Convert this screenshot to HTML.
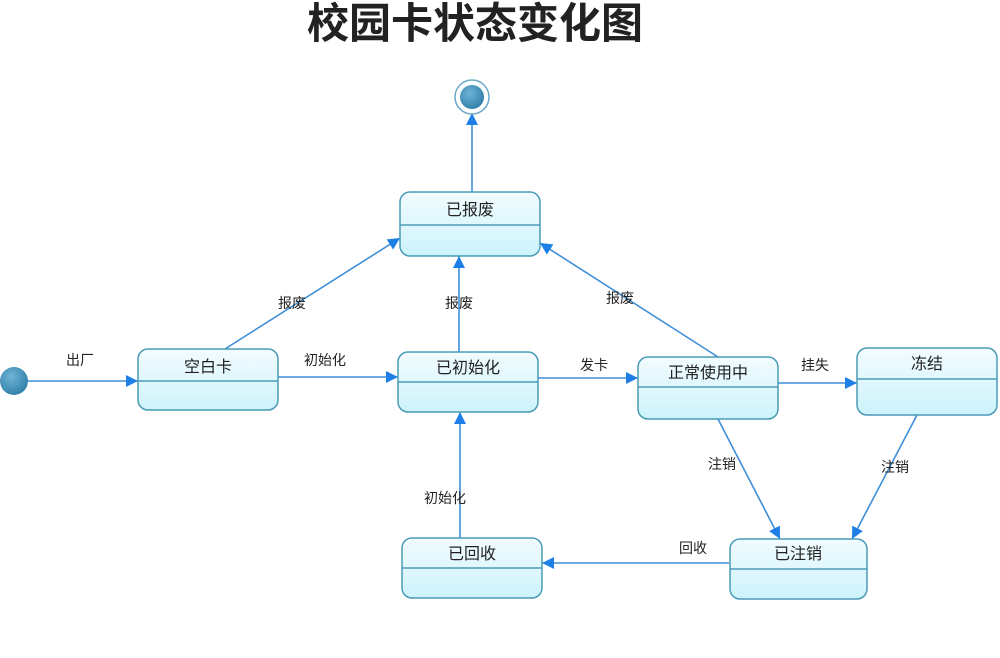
<!DOCTYPE html>
<html><head><meta charset="utf-8"><style>
html,body{margin:0;padding:0;background:#fff;}
svg{display:block;}
text{font-family:"Liberation Sans","Noto Sans CJK SC",sans-serif;fill:#222;}
</style></head><body>
<svg width="1000" height="658" viewBox="0 0 1000 658" xmlns="http://www.w3.org/2000/svg">
<defs>
<linearGradient id="g" x1="0" y1="0" x2="0" y2="1">
<stop offset="0" stop-color="#f2fcff"/><stop offset="1" stop-color="#cdf3fb"/>
</linearGradient>
<radialGradient id="c" cx="0.4" cy="0.35" r="0.7">
<stop offset="0" stop-color="#6fb4d6"/><stop offset="1" stop-color="#2e7ea8"/>
</radialGradient>
<marker id="a" viewBox="0 0 10 10" refX="10" refY="5" markerWidth="18" markerHeight="12" markerUnits="userSpaceOnUse" orient="auto">
<path d="M0,0 L10,5 L0,10 z" fill="#1e7fe6"/>
</marker>
</defs>
<text x="475" y="38" font-size="42" font-weight="bold" text-anchor="middle" font-family="Liberation Serif,Noto Serif CJK SC,serif">校园卡状态变化图</text>

<g stroke="#3f8fd8" stroke-width="1.6" fill="none" marker-end="url(#a)">
<line x1="28" y1="381" x2="138" y2="381"/>
<line x1="225" y1="349" x2="400" y2="238"/>
<line x1="278" y1="377" x2="398" y2="377"/>
<line x1="459" y1="352" x2="459" y2="256"/>
<line x1="538" y1="378" x2="638" y2="378"/>
<line x1="718" y1="357" x2="540" y2="243"/>
<line x1="778" y1="383" x2="857" y2="383"/>
<line x1="718" y1="419" x2="780" y2="539"/>
<line x1="917" y1="415" x2="852" y2="539"/>
<line x1="729" y1="563" x2="542" y2="563"/>
<line x1="460" y1="538" x2="460" y2="412"/>
<line x1="472" y1="192" x2="472" y2="113"/>
</g>

<circle cx="14" cy="381" r="14" fill="url(#c)"/>
<circle cx="472" cy="97" r="17" fill="#fff" stroke="#6aa8c8" stroke-width="1.5"/>
<circle cx="472" cy="97" r="12" fill="url(#c)"/>

<g stroke="#4a9bb8" stroke-width="1.5" fill="url(#g)">
<rect x="400" y="192" width="140" height="64" rx="10"/>
<rect x="138" y="349" width="140" height="61" rx="10"/>
<rect x="398" y="352" width="140" height="60" rx="10"/>
<rect x="638" y="357" width="140" height="62" rx="10"/>
<rect x="857" y="348" width="140" height="67" rx="10"/>
<rect x="402" y="538" width="140" height="60" rx="10"/>
<rect x="730" y="539" width="137" height="60" rx="10"/>
</g>
<g stroke="#4a9bb8" stroke-width="1.5">
<line x1="400" y1="225" x2="540" y2="225"/>
<line x1="138" y1="381" x2="278" y2="381"/>
<line x1="398" y1="382" x2="538" y2="382"/>
<line x1="638" y1="387" x2="778" y2="387"/>
<line x1="857" y1="379" x2="997" y2="379"/>
<line x1="402" y1="568" x2="542" y2="568"/>
<line x1="730" y1="569" x2="867" y2="569"/>
</g>

<g font-size="16" text-anchor="middle">
<text x="470" y="215">已报废</text>
<text x="208" y="372">空白卡</text>
<text x="468" y="373">已初始化</text>
<text x="708" y="378">正常使用中</text>
<text x="927" y="369">冻结</text>
<text x="472" y="559">已回收</text>
<text x="798" y="559">已注销</text>
</g>
<g font-size="14" text-anchor="middle">
<text x="80" y="365">出厂</text>
<text x="292" y="308">报废</text>
<text x="325" y="365">初始化</text>
<text x="459" y="308">报废</text>
<text x="594" y="370">发卡</text>
<text x="620" y="303">报废</text>
<text x="815" y="370">挂失</text>
<text x="722" y="469">注销</text>
<text x="895" y="472">注销</text>
<text x="693" y="553">回收</text>
<text x="445" y="503">初始化</text>
</g>
</svg>
</body></html>
